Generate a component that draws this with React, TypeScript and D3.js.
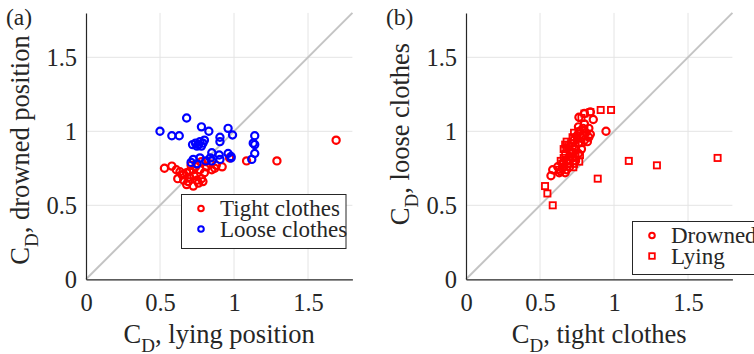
import React, { useEffect, useRef } from "react";
import * as d3 from "d3";

// ---- data ----
// Panel (a): x = C_D lying position, y = C_D drowned position
const tightClothes: [number, number][] = [
  [0.53, 0.75], [0.58, 0.765], [1.69, 0.94], [1.29, 0.80], [1.085, 0.80], [0.97, 0.82],
  [0.635, 0.727], [0.62, 0.68], [0.66, 0.67], [0.68, 0.64], [0.725, 0.63], [0.70, 0.69],
  [0.75, 0.67], [0.78, 0.68], [0.80, 0.72], [0.77, 0.74], [0.725, 0.74], [0.68, 0.72],
  [0.815, 0.76], [0.84, 0.78], [0.88, 0.77], [0.92, 0.76], [0.87, 0.75], [0.74, 0.76],
  [0.78, 0.795], [0.81, 0.795], [0.65, 0.705], [0.69, 0.66], [0.76, 0.65], [0.79, 0.66],
  [0.61, 0.74], [0.85, 0.74], [0.71, 0.77], [0.66, 0.71], [0.70, 0.73], [0.73, 0.70],
];
const looseClothes: [number, number][] = [
  [0.50, 1.00], [0.58, 0.97], [0.63, 0.97], [0.68, 1.09], [0.78, 1.03], [0.83, 1.00],
  [0.905, 0.96], [0.905, 0.93], [0.96, 1.02], [0.99, 0.975], [1.14, 0.97], [1.13, 0.92],
  [1.14, 0.91], [1.14, 0.85], [1.12, 0.81], [0.72, 0.91], [0.74, 0.92], [0.76, 0.91],
  [0.77, 0.93], [0.79, 0.92], [0.80, 0.94], [0.75, 0.90], [0.78, 0.90], [0.85, 0.855],
  [0.90, 0.84], [0.96, 0.85], [0.98, 0.83], [0.725, 0.81], [0.77, 0.82], [0.81, 0.80],
  [0.84, 0.82], [0.905, 0.81], [0.98, 0.82], [0.75, 0.78], [0.71, 0.79], [0.85, 0.80],
];
// Panel (b): x = C_D tight clothes, y = C_D loose clothes
const drowned: [number, number][] = [
  [0.946, 1.00], [0.586, 0.74], [0.574, 0.70], [0.763, 1.095], [0.80, 1.12], [0.84, 1.13],
  [0.86, 1.08], [0.64, 0.73], [0.66, 0.76], [0.67, 0.72], [0.68, 0.80], [0.69, 0.78],
  [0.70, 0.83], [0.71, 0.86], [0.72, 0.82], [0.72, 0.90], [0.73, 0.94], [0.74, 0.88],
  [0.75, 0.97], [0.76, 0.92], [0.77, 1.00], [0.78, 0.96], [0.79, 1.02], [0.80, 0.94],
  [0.81, 0.99], [0.82, 0.93], [0.78, 0.88], [0.76, 0.85], [0.74, 0.80], [0.70, 0.76],
  [0.66, 0.79], [0.80, 1.05], [0.76, 1.03], [0.83, 0.96], [0.65, 0.75], [0.68, 0.74],
  [0.62, 0.76], [0.63, 0.72], [0.84, 0.98], [0.83, 1.02],
];
const lying: [number, number][] = [
  [1.70, 0.82], [1.29, 0.77], [1.10, 0.80], [0.89, 0.68], [0.586, 0.50], [0.534, 0.63],
  [0.55, 0.58], [0.91, 1.144], [0.98, 1.144], [0.84, 1.13], [0.80, 1.12], [0.78, 1.09],
  [0.765, 0.795], [0.725, 0.757], [0.63, 0.74], [0.65, 0.78], [0.66, 0.82], [0.67, 0.85],
  [0.68, 0.88], [0.69, 0.90], [0.70, 0.86], [0.71, 0.92], [0.72, 0.96], [0.73, 0.99],
  [0.74, 0.90], [0.75, 0.95], [0.76, 1.00], [0.77, 0.84], [0.78, 0.92], [0.79, 0.97],
  [0.80, 1.01], [0.70, 0.80], [0.72, 0.85], [0.74, 0.83], [0.68, 0.93], [0.73, 0.78],
  [0.64, 0.80], [0.66, 0.88], [0.67, 0.91],
];
const tickValues = [0, 0.5, 1, 1.5];
const tickLabels = ["0", "0.5", "1", "1.5"];
const axisLimits = [0, 1.8];

const FONT = "Liberation Serif, Times New Roman, Times, serif";
const RED = "#ff0000";
const BLUE = "#0000ff";
const INK = "#262626";

export default function App() {
  const ref = useRef<SVGSVGElement | null>(null);

  useEffect(() => {
    const svg = d3.select(ref.current);
    svg.selectAll("*").remove();

    const size = 266.4;
    const yTop = 12.9;
    const yBottom = yTop + size;

    type Series = { data: [number, number][]; color: string; shape: "circle" | "square" };

    const styleText = (sel: any, fs: number) =>
      sel.style("font-family", FONT).style("font-size", fs + "px").attr("fill", INK);

    const drawPanel = (
      x0: number,
      tag: string,
      xLabel: string,
      yLabel: string,
      yLabelCenter: number,
      series: Series[],
      legend: { x: number; y: number; w: number; h: number; items: { label: string; color: string; shape: string }[] }
    ) => {
      const x = d3.scaleLinear().domain(axisLimits).range([x0, x0 + size]);
      const y = d3.scaleLinear().domain(axisLimits).range([yBottom, yTop]);
      const g = svg.append("g");

      // grid
      g.append("g")
        .selectAll("line")
        .data(tickValues.slice(1))
        .join("line")
        .attr("x1", (d) => x(d))
        .attr("x2", (d) => x(d))
        .attr("y1", y(axisLimits[0]))
        .attr("y2", y(axisLimits[1]))
        .attr("stroke", "#e4e4e4")
        .attr("stroke-width", 1);
      g.append("g")
        .selectAll("line")
        .data(tickValues.slice(1))
        .join("line")
        .attr("x1", x(axisLimits[0]))
        .attr("x2", x(axisLimits[1]))
        .attr("y1", (d) => y(d))
        .attr("y2", (d) => y(d))
        .attr("stroke", "#e4e4e4")
        .attr("stroke-width", 1);

      // identity line
      g.append("line")
        .attr("x1", x(axisLimits[0]))
        .attr("y1", y(axisLimits[0]))
        .attr("x2", x(axisLimits[1]))
        .attr("y2", y(axisLimits[1]))
        .attr("stroke", "#c4c4c4")
        .attr("stroke-width", 2);

      // axes
      const fmt = (d: d3.NumberValue) => tickLabels[tickValues.indexOf(+d)];
      const ax = g
        .append("g")
        .attr("transform", `translate(0,${yBottom})`)
        .call(d3.axisBottom(x).tickValues(tickValues).tickFormat(fmt).tickSize(0).tickPadding(14));
      const ay = g
        .append("g")
        .attr("transform", `translate(${x0},0)`)
        .call(d3.axisLeft(y).tickValues(tickValues).tickFormat(fmt).tickSize(0).tickPadding(9));
      [ax, ay].forEach((a) => {
        a.attr("font-family", null).attr("font-size", null);
        a.select(".domain").attr("stroke", INK).attr("stroke-width", 1.2);
        styleText(a.selectAll("text"), 24.5);
      });

      // points
      series.forEach((s) => {
        if (s.shape === "circle") {
          g.append("g")
            .selectAll("circle")
            .data(s.data)
            .join("circle")
            .attr("cx", (d) => x(d[0]))
            .attr("cy", (d) => y(d[1]))
            .attr("r", 3.6)
            .attr("fill", "none")
            .attr("stroke", s.color)
            .attr("stroke-width", 2.2);
        } else {
          const sz = 6.2;
          g.append("g")
            .selectAll("rect")
            .data(s.data)
            .join("rect")
            .attr("x", (d) => x(d[0]) - sz / 2)
            .attr("y", (d) => y(d[1]) - sz / 2)
            .attr("width", sz)
            .attr("height", sz)
            .attr("fill", "none")
            .attr("stroke", s.color)
            .attr("stroke-width", 1.8);
        }
      });

      // legend
      const lg = g.append("g");
      lg.append("rect")
        .attr("x", legend.x)
        .attr("y", legend.y)
        .attr("width", legend.w)
        .attr("height", legend.h)
        .attr("fill", "white")
        .attr("stroke", INK)
        .attr("stroke-width", 1);
      legend.items.forEach((it, i) => {
        const cy = legend.y + 14 + i * 20.5;
        const mx = legend.x + 19.5;
        if (it.shape === "circle") {
          lg.append("circle")
            .attr("cx", mx)
            .attr("cy", cy)
            .attr("r", 2.8)
            .attr("fill", "none")
            .attr("stroke", it.color)
            .attr("stroke-width", 2);
        } else {
          lg.append("rect")
            .attr("x", mx - 2.8)
            .attr("y", cy - 2.8)
            .attr("width", 5.6)
            .attr("height", 5.6)
            .attr("fill", "none")
            .attr("stroke", it.color)
            .attr("stroke-width", 1.8);
        }
        styleText(
          lg.append("text").attr("x", legend.x + 38.5).attr("y", cy + 7.5).text(it.label),
          23
        );
      });

      // panel tag
      styleText(g.append("text").attr("x", x0 - 80).attr("y", 25).text(tag), 23.5);

      // x label
      const xl = styleText(
        g.append("text").attr("x", x0 + size / 2).attr("y", 343).attr("text-anchor", "middle"),
        26.5
      );
      xl.append("tspan").text("C");
      xl.append("tspan").attr("dy", 9).style("font-size", "19px").text("D");
      xl.append("tspan").attr("dy", -9).text(", " + xLabel);

      // y label
      const yl = styleText(
        g
          .append("text")
          .attr("transform", `translate(${x0 - 57},${yLabelCenter}) rotate(-90)`)
          .attr("text-anchor", "middle"),
        26.5
      );
      yl.append("tspan").text("C");
      yl.append("tspan").attr("dy", 9).style("font-size", "19px").text("D");
      yl.append("tspan").attr("dy", -9).text(", " + yLabel);
    };

    drawPanel(
      86,
      "(a)",
      "lying position",
      "drowned position",
      150,
      [
        { data: tightClothes, color: RED, shape: "circle" },
        { data: looseClothes, color: BLUE, shape: "circle" },
      ],
      {
        x: 181.5,
        y: 194.5,
        w: 164.5,
        h: 54,
        items: [
          { label: "Tight clothes", color: RED, shape: "circle" },
          { label: "Loose clothes", color: BLUE, shape: "circle" },
        ],
      }
    );
    drawPanel(
      466,
      "(b)",
      "tight clothes",
      "loose clothes",
      134,
      [
        { data: drowned, color: RED, shape: "circle" },
        { data: lying, color: RED, shape: "square" },
      ],
      {
        x: 632.5,
        y: 221.5,
        w: 140,
        h: 53,
        items: [
          { label: "Drowned", color: RED, shape: "circle" },
          { label: "Lying", color: RED, shape: "square" },
        ],
      }
    );
  }, []);

  return (
    <svg
      ref={ref}
      width={754}
      height={354}
      style={{ position: "absolute", left: 0, top: 0, background: "white" }}
    />
  );
}
